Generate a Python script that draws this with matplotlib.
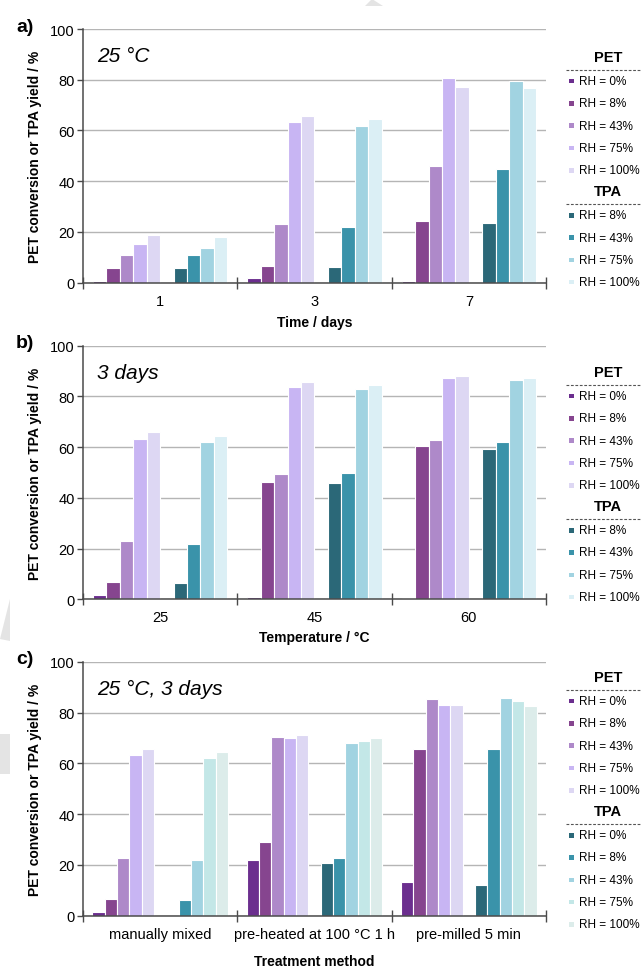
#!/usr/bin/env python3
"""PET conversion / TPA yield vs time, temperature and treatment (panels a-c)."""

import numpy as np
import matplotlib
matplotlib.use("Agg")
import matplotlib.pyplot as plt
from matplotlib.lines import Line2D
from matplotlib.patches import Rectangle, Polygon

plt.rcParams["font.family"] = ["Liberation Sans", "DejaVu Sans"]

# ---- data ----
pet_labels = ["RH = 0%", "RH = 8%", "RH = 43%", "RH = 75%", "RH = 100%"]
tpa_labels_ab = ["RH = 8%", "RH = 43%", "RH = 75%", "RH = 100%"]
tpa_labels_c = ["RH = 0%", "RH = 8%", "RH = 43%", "RH = 75%", "RH = 100%"]

pet_colors = ["#6b2e8e", "#86458f", "#ae89c9", "#c8b5f3", "#ddd7f3"]
tpa_colors_ab = ["#2b6878", "#3a93aa", "#a1d3e1", "#dbeff5"]
tpa_colors_c = ["#2b6878", "#3a93aa", "#a1d3e1", "#c3e7e7", "#dcecea"]

# panel a: time / days at 25 °C
time_cats = ["1", "3", "7"]
time_pet = [[0.7, 5.8, 10.9, 15.0, 18.8],
            [1.6, 6.6, 22.9, 63.2, 65.8],
            [0.7, 24.1, 45.9, 80.8, 77.1]]
time_tpa = [[5.8, 10.9, 13.8, 17.8],
            [6.3, 21.8, 61.9, 64.3],
            [23.6, 44.9, 79.3, 76.6]]

# panel b: temperature / °C, 3 days
temp_cats = ["25", "45", "60"]
temp_pet = [[1.6, 6.6, 22.9, 63.2, 65.8],
            [0.7, 46.3, 49.2, 83.8, 85.8],
            [0.5, 60.3, 62.7, 87.2, 88.1]]
temp_tpa = [[6.3, 21.8, 61.9, 64.3],
            [46.0, 49.7, 83.0, 84.5],
            [59.4, 62.0, 86.6, 87.4]]

# panel c: treatment method, 25 °C, 3 days
treat_cats = ["manually mixed", "pre-heated at 100 °C 1 h", "pre-milled 5 min"]
treat_pet = [[1.4, 6.6, 22.8, 63.2, 65.8],
             [21.8, 28.8, 70.3, 69.9, 71.3],
             [13.2, 65.5, 85.3, 83.0, 83.0]]
treat_tpa = [[np.nan, 6.3, 21.8, 62.1, 64.3],
             [20.7, 22.5, 68.2, 68.9, 70.0],
             [12.2, 65.5, 85.8, 84.6, 82.6]]

W, H = 642, 970


def fy(px):
    return 1 - px / H


def fx(px):
    return px / W


def panel(fig, top_px, letter, note, xlabel, xlabel_pad, cats, pet, tpa,
          tpa_labels, tpa_colors, leg_top):
    bottom_px = top_px + 253.5
    ax = fig.add_axes([fx(83), fy(bottom_px), fx(546 - 83), 253.5 / H])
    n_slots = 5 + 1 + len(tpa_labels)
    slot = 1.0 / (n_slots + 1.5)
    idx = np.arange(len(cats))

    pet = np.array(pet)
    tpa = np.array(tpa)
    for k in range(5):
        ax.bar(idx - 0.5 + slot * (k + 1.25), pet[:, k], width=slot,
               color=pet_colors[k], edgecolor="white", linewidth=0.8, zorder=3)
    for k in range(len(tpa_labels)):
        ax.bar(idx - 0.5 + slot * (k + 6 + 1.25), tpa[:, k], width=slot,
               color=tpa_colors[k], edgecolor="white", linewidth=0.8, zorder=3)

    ax.set_xlim(-0.5, len(cats) - 0.5)
    ax.set_ylim(0, 100)
    ax.set_yticks(range(0, 101, 20))
    ax.yaxis.grid(True, color="#b5b5b5", linewidth=1.0, zorder=0)
    ax.set_axisbelow(True)
    for s in ("top", "right"):
        ax.spines[s].set_visible(False)
    for s in ("left", "bottom"):
        ax.spines[s].set_color("#4a4a4a")
        ax.spines[s].set_linewidth(1.1)
        ax.spines[s].set_zorder(5)
    ax.set_xticks(np.arange(len(cats) + 1) - 0.5)
    ax.set_xticklabels([])
    ax.set_xticks(idx, minor=True)
    ax.set_xticklabels(cats, minor=True, fontsize=10.5)
    ax.tick_params(axis="x", which="major", direction="inout", length=8, width=1, color="#4a4a4a")
    ax.tick_params(axis="x", which="minor", bottom=False, length=0, pad=8)
    ax.tick_params(axis="y", direction="out", length=4, width=1, color="#4a4a4a", labelsize=10.5, pad=2)
    ax.set_xlabel(xlabel, fontsize=10, fontweight="bold", labelpad=xlabel_pad)
    ax.set_ylabel("PET conversion or TPA yield / %", fontsize=10, fontweight="bold", labelpad=6)
    ax.text(0.03, 0.895, note, transform=ax.transAxes, fontsize=15, style="italic", va="center")
    fig.text(fx(16), fy(top_px - 3), letter, fontsize=14, fontweight="bold", va="center")

    # legend, two titled groups
    def group(title, y0, labels, colors):
        fig.text(fx(608), fy(y0), title, fontsize=10.5, fontweight="bold", ha="center", va="center")
        fig.add_artist(Line2D([fx(566), fx(642)], [fy(y0 + 13), fy(y0 + 13)],
                              color="#555555", linewidth=0.8, linestyle=(0, (2.5, 1.5))))
        for k, (lab, col) in enumerate(zip(labels, colors)):
            y = y0 + 24 + 22.3 * k
            fig.add_artist(Rectangle((fx(569), fy(y + 2.3)), fx(4.6), 4.6 / H,
                                     facecolor=col, edgecolor="none"))
            fig.text(fx(579), fy(y), lab, fontsize=8.5, va="center")
        return y0 + 24 + 22.3 * (len(labels) - 1)

    last = group("PET", leg_top, pet_labels, pet_colors)
    group("TPA", last + 21, tpa_labels, tpa_colors)
    return ax


def main():
    fig = plt.figure(figsize=(W / 100, H / 100), dpi=100)

    # faint watermark fragments
    for pts in ([(365, 7), (372, 0), (383, 7)],
                [(0, 640), (10, 600), (10, 642)],
                [(0, 735), (10, 735), (10, 775), (0, 775)]):
        fig.add_artist(Polygon([(fx(x), fy(y)) for x, y in pts], closed=True,
                               facecolor="#e4e4e4", edgecolor="none"))

    panel(fig, 30, "a)", "25 °C", "Time / days", 5, time_cats, time_pet, time_tpa,
          tpa_labels_ab, tpa_colors_ab, 58)
    panel(fig, 346.7, "b)", "3 days", "Temperature / °C", 4, temp_cats, temp_pet, temp_tpa,
          tpa_labels_ab, tpa_colors_ab, 373)
    panel(fig, 663, "c)", "25 °C, 3 days", "Treatment method", 10, treat_cats, treat_pet,
          treat_tpa, tpa_labels_c, tpa_colors_c, 678)

    fig.savefig("out.png", dpi=100)
    plt.close(fig)


if __name__ == "__main__":
    main()
